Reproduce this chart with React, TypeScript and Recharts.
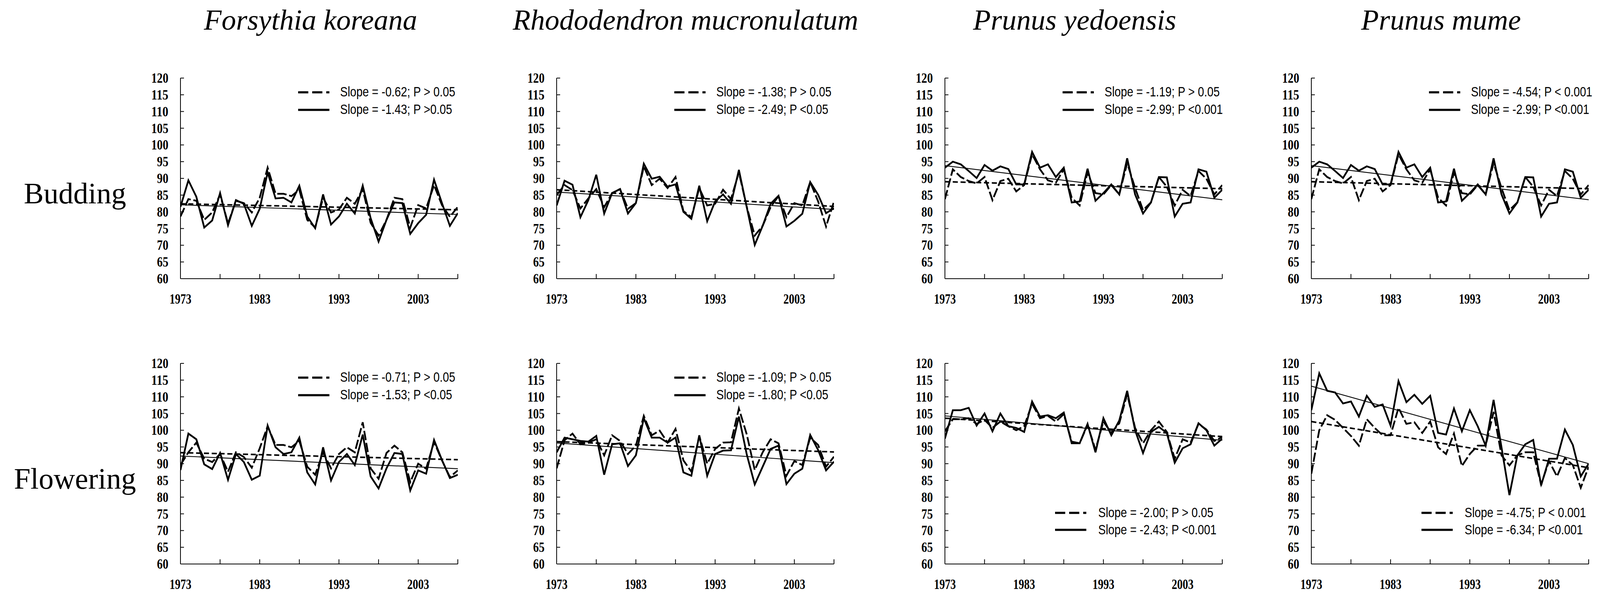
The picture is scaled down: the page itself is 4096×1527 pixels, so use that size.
import React from 'react';
import { LineChart, Line, XAxis, YAxis } from 'recharts';

// ---------- categories / ticks ----------
const YEARS = [1973, 1974, 1975, 1976, 1977, 1978, 1979, 1980, 1981, 1982, 1983, 1984, 1985, 1986, 1987, 1988, 1989, 1990,
  1991, 1992, 1993, 1994, 1995, 1996, 1997, 1998, 1999, 2000, 2001, 2002, 2003, 2004, 2005, 2006, 2007, 2008];
const TREND_YEARS = [1973, 2008];
const X_TICKS = [1973, 1978, 1983, 1988, 1993, 1998, 2003, 2008];
const X_LABELS = [1973, 1983, 1993, 2003];
const Y_TICKS = [60, 65, 70, 75, 80, 85, 90, 95, 100, 105, 110, 115, 120];
const SPECIES = ['Forsythia koreana', 'Rhododendron mucronulatum', 'Prunus yedoensis', 'Prunus mume'];
const STAGES = ['Budding', 'Flowering'];

// ---------- Budding ----------
const forsythiaBudDashed = [78.6, 83.8, 83.3, 77.6, 79.8, 85.2, 76.5, 83.3, 82.6, 79.8, 84.2, 93.2, 85.4, 85.4, 84.7, 86.6, 77.6, 75.3,
  84.2, 79.8, 80.7, 84.2, 82.4, 86.8, 76.7, 72.9, 77.6, 84.2, 83.8, 75.3, 82.0, 81.0, 88.0, 82.0, 78.5, 81.5];
const forsythiaBudSolid = [81.5, 89.4, 84.5, 75.3, 77.4, 85.6, 76.0, 83.5, 82.4, 75.8, 80.9, 91.8, 84.0, 84.2, 82.8, 87.8, 78.6, 75.1,
  85.2, 76.2, 78.6, 82.4, 79.5, 87.8, 78.1, 71.1, 77.6, 82.8, 82.6, 73.4, 76.6, 79.1, 89.6, 82.6, 75.8, 79.6];
const forsythiaBudTrendDashed = [82.4, 80.6];
const forsythiaBudTrendSolid = [82.1, 79.2];

const rhodoBudDashed = [85.0, 88.0, 86.5, 81.0, 84.0, 86.8, 81.4, 85.6, 86.8, 80.9, 82.6, 93.6, 88.0, 89.9, 87.1, 90.4, 80.2, 78.4,
  87.1, 81.9, 82.4, 86.6, 83.8, 91.8, 81.4, 72.9, 75.8, 81.4, 84.7, 78.4, 82.6, 81.9, 88.9, 83.1, 75.6, 83.1];
const rhodoBudSolid = [81.9, 89.3, 88.1, 78.4, 83.5, 91.1, 79.5, 85.6, 86.8, 79.5, 82.6, 94.4, 89.9, 90.5, 87.5, 88.2, 80.0, 77.9,
  87.8, 77.2, 83.1, 85.2, 82.4, 92.5, 81.3, 70.1, 75.8, 82.4, 84.8, 75.6, 77.3, 79.4, 88.9, 85.1, 79.6, 81.1];
const rhodoBudTrendDashed = [86.6, 81.6];
const rhodoBudTrendSolid = [85.9, 80.7];

const yedoBudDashed = [83.8, 92.7, 90.4, 89.2, 88.5, 90.4, 83.5, 89.2, 89.9, 86.1, 88.0, 97.2, 92.7, 89.4, 88.7, 92.7, 84.2, 81.9,
  91.8, 85.6, 85.2, 88.0, 85.2, 94.6, 87.1, 80.5, 82.8, 90.4, 87.5, 81.9, 86.6, 84.7, 92.2, 89.9, 85.2, 88.0];
const yedoBudSolid = [93.2, 95.0, 94.2, 92.2, 90.1, 94.0, 92.3, 93.6, 92.8, 88.2, 88.2, 97.9, 93.2, 94.2, 90.4, 93.2, 82.8, 83.1,
  92.9, 83.3, 85.6, 88.2, 85.2, 96.0, 85.2, 79.5, 82.8, 90.4, 90.3, 78.6, 82.4, 82.8, 92.7, 92.0, 84.2, 86.6];
const yedoBudTrendDashed = [89.0, 86.9];
const yedoBudTrendSolid = [93.8, 83.6];

const mumeBudDashed = [83.8, 92.7, 90.4, 89.2, 88.5, 90.4, 83.5, 89.2, 89.9, 86.1, 88.0, 97.2, 92.7, 89.4, 88.7, 92.7, 84.2, 81.9,
  91.8, 85.6, 85.2, 88.0, 85.2, 94.6, 87.1, 80.5, 82.8, 90.4, 87.5, 81.9, 86.6, 84.7, 92.2, 89.9, 85.2, 88.0];
const mumeBudSolid = [93.2, 95.0, 94.2, 92.2, 90.1, 94.0, 92.3, 93.6, 92.8, 88.2, 88.2, 97.9, 93.2, 94.2, 90.4, 93.2, 82.8, 83.1,
  92.9, 83.3, 85.6, 88.2, 85.2, 96.0, 85.2, 79.5, 82.8, 90.4, 90.3, 78.6, 82.4, 82.8, 92.7, 92.0, 84.2, 86.6];
const mumeBudTrendDashed = [89.0, 86.9];
const mumeBudTrendSolid = [93.8, 83.6];

// ---------- Flowering ----------
const forsythiaFlwDashed = [89.6, 93.4, 96.3, 91.5, 90.5, 92.9, 87.6, 93.4, 92.0, 88.8, 94.6, 101.2, 95.6, 95.6, 94.9, 96.8, 89.1, 86.7,
  93.4, 88.6, 92.9, 94.9, 93.4, 102.4, 88.6, 85.5, 93.2, 95.4, 93.4, 84.5, 90.0, 88.5, 96.5, 91.0, 86.0, 88.0];
const forsythiaFlwSolid = [88.1, 99.0, 97.3, 89.8, 88.4, 93.2, 85.2, 92.9, 90.5, 85.2, 86.4, 101.4, 94.9, 92.9, 93.4, 97.8, 87.4, 83.8,
  94.9, 85.0, 90.5, 92.9, 89.6, 98.7, 86.2, 82.6, 88.6, 93.2, 92.9, 82.0, 88.0, 87.0, 97.1, 91.1, 85.7, 86.7];
const forsythiaFlwTrendDashed = [93.3, 91.2];
const forsythiaFlwTrendSolid = [92.3, 88.5];

const rhodoFlwDashed = [88.6, 97.0, 99.0, 95.8, 96.3, 97.3, 92.5, 98.5, 96.8, 92.9, 95.4, 104.3, 98.5, 99.9, 96.3, 100.4, 91.0, 87.6,
  98.3, 90.0, 94.4, 96.3, 96.4, 106.5, 98.7, 88.1, 93.4, 97.3, 96.1, 86.4, 90.8, 89.6, 97.8, 95.6, 89.1, 92.1];
const rhodoFlwSolid = [93.4, 97.8, 97.3, 96.8, 96.6, 98.3, 86.7, 95.8, 96.1, 89.3, 92.5, 103.6, 97.8, 97.8, 96.3, 97.8, 87.4, 86.4,
  98.5, 86.4, 92.9, 93.9, 94.0, 104.1, 92.7, 83.8, 89.1, 94.4, 95.4, 83.9, 87.0, 88.5, 98.6, 94.1, 88.0, 90.6];
const rhodoFlwTrendDashed = [96.6, 93.5];
const rhodoFlwTrendSolid = [96.2, 90.3];

const yedoFlwDashed = [99.7, 103.3, 103.3, 103.6, 101.9, 103.1, 100.7, 102.6, 101.2, 100.0, 101.2, 107.9, 103.6, 104.3, 102.6, 104.8, 96.6, 96.1,
  101.6, 94.2, 102.6, 99.2, 102.1, 110.8, 100.7, 96.1, 100.0, 102.6, 99.5, 91.5, 97.3, 96.3, 101.9, 100.2, 96.8, 98.0];
const yedoFlwSolid = [97.5, 106.0, 106.0, 106.7, 101.4, 105.0, 99.7, 105.0, 101.2, 100.7, 99.5, 108.6, 104.1, 104.5, 103.6, 105.3, 96.1, 96.1,
  101.9, 93.4, 103.6, 98.5, 102.9, 111.8, 100.0, 93.2, 99.5, 101.0, 99.2, 90.3, 94.6, 95.8, 102.1, 100.0, 95.4, 97.5];
const yedoFlwTrendDashed = [103.6, 98.1];
const yedoFlwTrendSolid = [104.3, 97.0];

const mumeFlwDashed = [87.0, 100.0, 104.5, 103.1, 100.7, 98.3, 95.4, 103.3, 100.7, 98.5, 98.5, 106.7, 101.9, 102.4, 99.2, 102.6, 94.9, 92.9,
  99.0, 89.3, 92.9, 95.4, 95.4, 105.5, 92.5, 89.5, 92.5, 93.4, 93.4, 83.8, 90.8, 86.2, 91.7, 89.6, 82.8, 89.1];
const mumeFlwSolid = [106.0, 117.0, 111.8, 111.3, 108.0, 108.6, 104.1, 110.3, 107.0, 107.7, 101.4, 114.7, 108.4, 110.6, 107.9, 110.3, 99.2, 98.7,
  106.5, 99.7, 106.0, 101.2, 95.4, 109.1, 94.9, 80.6, 92.5, 95.8, 97.1, 83.5, 91.5, 91.5, 100.2, 95.6, 86.2, 90.0];
const mumeFlwTrendDashed = [102.6, 88.8];
const mumeFlwTrendSolid = [113.2, 90.0];

// ---------- legend texts ----------
const LEGEND_TEXTS = [
  ['Slope = -0.62; P > 0.05', 'Slope = -1.43; P >0.05'],
  ['Slope = -1.38; P > 0.05', 'Slope = -2.49; P <0.05'],
  ['Slope = -1.19; P > 0.05', 'Slope = -2.99; P <0.001'],
  ['Slope = -4.54; P < 0.001', 'Slope = -2.99; P <0.001'],
  ['Slope = -0.71; P > 0.05', 'Slope = -1.53; P <0.05'],
  ['Slope = -1.09; P > 0.05', 'Slope = -1.80; P <0.05'],
  ['Slope = -2.00; P > 0.05', 'Slope = -2.43; P <0.001'],
  ['Slope = -4.75; P < 0.001', 'Slope = -6.34; P <0.001'],
];

// ---------- layout ----------
const COL_AXIS_X = [462.2, 1425.1, 2418.8, 3357.2];
const ROW_TOP_Y = [199.5, 931.4];
const TITLE_X = [795, 1755, 2751, 3689];
const YW = 100;
const MT = 20;
const MR = 20;
const XH = 80;
const PLOT_W = 710;
const PLOT_H = 514;
const CHART_W = YW + PLOT_W + MR;
const CHART_H = MT + PLOT_H + XH;
const AX = YW;
const AY = MT + PLOT_H;

const SERIES = [
  [forsythiaBudDashed, forsythiaBudSolid, forsythiaBudTrendDashed, forsythiaBudTrendSolid],
  [rhodoBudDashed, rhodoBudSolid, rhodoBudTrendDashed, rhodoBudTrendSolid],
  [yedoBudDashed, yedoBudSolid, yedoBudTrendDashed, yedoBudTrendSolid],
  [mumeBudDashed, mumeBudSolid, mumeBudTrendDashed, mumeBudTrendSolid],
  [forsythiaFlwDashed, forsythiaFlwSolid, forsythiaFlwTrendDashed, forsythiaFlwTrendSolid],
  [rhodoFlwDashed, rhodoFlwSolid, rhodoFlwTrendDashed, rhodoFlwTrendSolid],
  [yedoFlwDashed, yedoFlwSolid, yedoFlwTrendDashed, yedoFlwTrendSolid],
  [mumeFlwDashed, mumeFlwSolid, mumeFlwTrendDashed, mumeFlwTrendSolid],
];

function buildRows(d: number[], s: number[], td: number[], ts: number[]) {
  return YEARS.map((year, i) => {
    const ti = TREND_YEARS.indexOf(year);
    return {
      year,
      d: d[i],
      s: s[i],
      td: ti >= 0 ? td[ti] : null,
      ts: ti >= 0 ? ts[ti] : null,
    };
  });
}

const serifBold = "'Liberation Serif', 'Times New Roman', serif";

const YTick = (props: any) => {
  const { y, payload } = props;
  const s = String(payload.value);
  return (
    <g>
      <line x1={AX} x2={AX + 9} y1={y} y2={y} stroke="#000" strokeWidth={2} />
      <text x={AX - 31} y={y} textAnchor="end" dominantBaseline="central" fontFamily={serifBold}
        fontWeight="bold" fontSize={36} fill="#000" textLength={s.length * 14.6} lengthAdjust="spacingAndGlyphs">{s}</text>
    </g>
  );
};

const XTick = (props: any) => {
  const { x, payload } = props;
  const v = payload.value;
  return (
    <g>
      <line x1={x} x2={x} y1={AY} y2={AY - 12} stroke="#000" strokeWidth={2} />
      {X_LABELS.includes(v) ? (
        <text x={x} y={AY + 52} textAnchor="middle" dominantBaseline="central" fontFamily={serifBold}
          fontWeight="bold" fontSize={36} fill="#000" textLength={56} lengthAdjust="spacingAndGlyphs">{v}</text>
      ) : null}
    </g>
  );
};

const xOf = (yr: number) => AX + ((yr - 1973) * PLOT_W) / 35;
const yOf = (v: number) => MT + ((120 - v) * PLOT_H) / 60;

function Legend({ idx, bottom }: { idx: number; bottom: boolean }) {
  const texts = LEGEND_TEXTS[idx];
  const symStart = bottom ? 1986.9 : 1987.85;
  const txtStart = bottom ? 1992.35 : 1993.15;
  const ys = bottom ? [75.3, 70.2] : [115.75, 110.5];
  const x1 = xOf(symStart);
  const x2 = x1 + 80;
  const tx = xOf(txtStart);
  const fid = `blur${idx}`;
  return (
    <svg width={CHART_W} height={CHART_H} style={{ position: 'absolute', left: 0, top: 0, overflow: 'visible' }}>
      <defs>
        <filter id={fid} x="-20%" y="-200%" width="140%" height="500%">
          <feGaussianBlur stdDeviation="2.5" />
        </filter>
      </defs>
      {ys.map((v, k) => {
        const y = yOf(v);
        return (
          <g key={k}>
            <line x1={x1} x2={x2} y1={y + 6} y2={y + 6} stroke="#777" strokeOpacity={0.5} strokeWidth={6}
              strokeDasharray={k === 0 ? '26 10' : undefined} filter={`url(#${fid})`} />
            <line x1={x1} x2={x2} y1={y} y2={y} stroke="#000" strokeWidth={5.5}
              strokeDasharray={k === 0 ? '26 10' : undefined} />
            <text x={0} y={0} transform={`translate(${tx},${y - 1}) scale(0.82,1)`} dominantBaseline="central"
              fontFamily="'Liberation Sans', Arial, sans-serif" fontSize={35} fill="#000">{texts[k]}</text>
          </g>
        );
      })}
    </svg>
  );
}

function Panel({ idx }: { idx: number }) {
  const row = Math.floor(idx / 4);
  const col = idx % 4;
  const [d, s, td, ts] = SERIES[idx];
  const data = buildRows(d, s, td, ts);
  const left = COL_AXIS_X[col] - YW;
  const top = ROW_TOP_Y[row] - MT;
  const bottomLegend = row === 1 && col >= 2;
  return (
    <div style={{ position: 'absolute', left, top, width: CHART_W, height: CHART_H }}>
      <LineChart width={CHART_W} height={CHART_H} data={data} margin={{ top: MT, right: MR, left: 0, bottom: 0 }}>
        <XAxis dataKey="year" type="number" domain={[1973, 2008]} ticks={X_TICKS} interval={0} height={XH}
          tickLine={false} tickSize={0} tickMargin={0} axisLine={{ stroke: '#000', strokeWidth: 2 }} tick={XTick}
          allowDataOverflow />
        <YAxis type="number" domain={[60, 120]} ticks={Y_TICKS} interval={0} width={YW}
          tickLine={false} tickSize={0} tickMargin={0} axisLine={{ stroke: '#000', strokeWidth: 2 }} tick={YTick}
          allowDataOverflow />
        <Line dataKey="s" type="linear" stroke="#000" strokeWidth={4.5} dot={false} activeDot={false}
          isAnimationActive={false} strokeLinejoin="miter" />
        <Line dataKey="d" type="linear" stroke="#000" strokeWidth={4.5} strokeDasharray="24 7" dot={false}
          activeDot={false} isAnimationActive={false} />
        <Line dataKey="ts" type="linear" stroke="#000" strokeWidth={2.2} dot={false} activeDot={false}
          connectNulls isAnimationActive={false} />
        <Line dataKey="td" type="linear" stroke="#000" strokeWidth={4} strokeDasharray="13 7" dot={false}
          activeDot={false} connectNulls isAnimationActive={false} />
      </LineChart>
      <Legend idx={idx} bottom={bottomLegend} />
    </div>
  );
}

export default function App() {
  return (
    <div style={{ position: 'absolute', left: 0, top: 0, width: 4096, height: 1527, background: '#fff', overflow: 'hidden' }}>
      <svg width={4096} height={1527} style={{ position: 'absolute', left: 0, top: 0 }}>
        {SPECIES.map((name, i) => (
          <text key={name} x={TITLE_X[i]} y={76} textAnchor="middle" fontFamily="'Liberation Serif', 'Times New Roman', serif"
            fontStyle="italic" fontSize={74} fill="#000">{name}</text>
        ))}
        {STAGES.map((name, i) => (
          <text key={name} x={192} y={i === 0 ? 521 : 1252} textAnchor="middle"
            fontFamily="'Liberation Serif', 'Times New Roman', serif" fontSize={76} fill="#000">{name}</text>
        ))}
      </svg>
      {SERIES.map((_, idx) => (
        <Panel key={idx} idx={idx} />
      ))}
    </div>
  );
}
